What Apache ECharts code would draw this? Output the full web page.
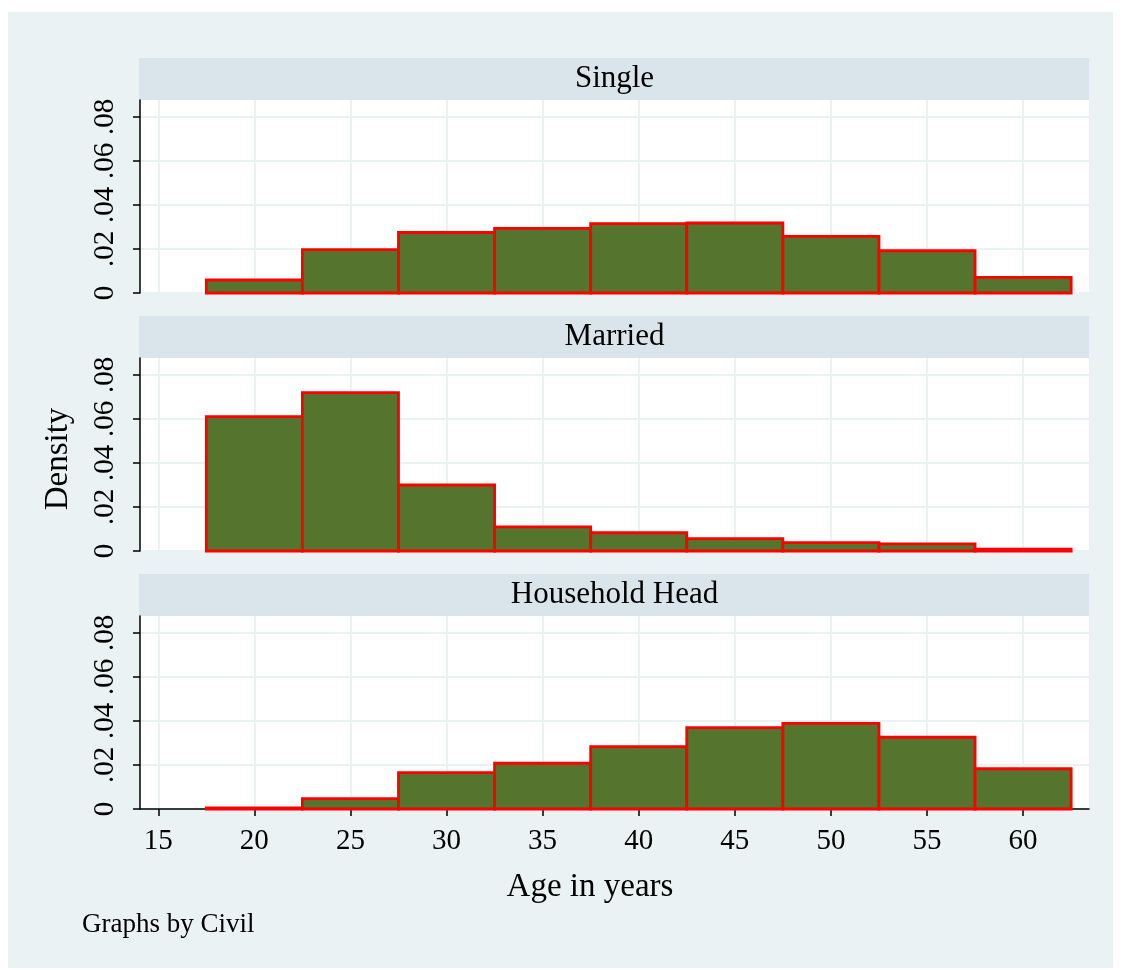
<!DOCTYPE html>
<html>
<head>
<meta charset="utf-8">
<title>Age histograms by civil status</title>
<script src="https://cdn.jsdelivr.net/npm/echarts@6/dist/echarts.min.js"></script>
<style>
  html, body { margin: 0; padding: 0; background: #ffffff; }
  #chart { width: 1122px; height: 970px; }
</style>
</head>
<body>
<div id="chart"></div>
<script>
// Histogram bins (age in years), width 5
const binEdges = [17.5, 22.5, 27.5, 32.5, 37.5, 42.5, 47.5, 52.5, 57.5, 62.5];

// Density per bin for each civil status group
const singleDensity  = [0.0059, 0.0197, 0.0275, 0.0294, 0.0315, 0.0318, 0.0257, 0.0192, 0.0071];
const marriedDensity = [0.0611, 0.0720, 0.0300, 0.0110, 0.0083, 0.0056, 0.0038, 0.0032, 0.0008];
const headDensity    = [0.0005, 0.0047, 0.0165, 0.0208, 0.0283, 0.0370, 0.0389, 0.0326, 0.0183];

const panelTitles = ['Single', 'Married', 'Household Head'];
const xTicks = [15, 20, 25, 30, 35, 40, 45, 50, 55, 60];
const yTicks = [0, 0.02, 0.04, 0.06, 0.08];

const FONT = '"Liberation Serif", "Times New Roman", serif';
const BG = '#EAF2F3';
const STRIP = '#D9E5EB';
const FILL = '#55742E';
const EDGE = '#FF0000';

const groups = [singleDensity, marriedDensity, headDensity];

const plotLeft = 140, plotRight = 1089, plotH = 193, stripH = 42;
const plotTops = [100, 358, 616];

function binData(values) {
  return values.map((v, i) => [binEdges[i], binEdges[i + 1], v]);
}

function yLabel(v) {
  if (v === 0) return '0';
  return String(+v.toFixed(2)).replace(/^0\./, '.');
}

const grids = [], xAxes = [], yAxes = [], series = [];
const graphics = [
  { type: 'rect', z: -100, shape: { x: 8, y: 12, width: 1105, height: 956 }, style: { fill: BG } }
];

groups.forEach((vals, i) => {
  const last = i === groups.length - 1;
  grids.push({
    left: plotLeft, right: 1122 - plotRight, top: plotTops[i], height: plotH,
    show: true, backgroundColor: '#ffffff', borderWidth: 0
  });
  xAxes.push({
    type: 'value', gridIndex: i, min: 14.05, max: 63.43,
    axisLine: { show: last, onZero: false, lineStyle: { color: '#000', width: 1.5 } },
    axisTick: { show: last, customValues: xTicks, length: 7, lineStyle: { color: '#000', width: 1.5 } },
    axisLabel: { show: last, customValues: xTicks, margin: 18, color: '#000', fontFamily: FONT, fontSize: 29 },
    splitLine: { show: true, lineStyle: { color: BG, width: 2 } }
  });
  yAxes.push({
    type: 'value', gridIndex: i, min: 0, max: 0.0877,
    axisLine: { show: true, lineStyle: { color: '#000', width: 1.5 } },
    axisTick: { show: true, customValues: yTicks, length: 7, lineStyle: { color: '#000', width: 1.5 } },
    axisLabel: {
      show: true, customValues: yTicks, rotate: 90, margin: 20,
      color: '#000', fontFamily: FONT, fontSize: 29, formatter: yLabel
    },
    splitLine: { show: true, lineStyle: { color: BG, width: 2 } }
  });
  series.push({
    type: 'custom', xAxisIndex: i, yAxisIndex: i, clip: false,
    data: binData(vals),
    encode: { x: [0, 1], y: 2 },
    renderItem: function (params, api) {
      const p0 = api.coord([api.value(0), 0]);
      const p1 = api.coord([api.value(1), api.value(2)]);
      return {
        type: 'rect',
        shape: { x: p0[0], y: p1[1], width: p1[0] - p0[0], height: p0[1] - p1[1] },
        style: { fill: FILL, stroke: EDGE, lineWidth: 2.8 }
      };
    }
  });
  // Panel strip with group title
  graphics.push({
    type: 'rect', z: -50,
    shape: { x: plotLeft - 1, y: plotTops[i] - stripH, width: plotRight - plotLeft + 1, height: stripH },
    style: { fill: STRIP }
  });
  graphics.push({
    type: 'text', z: 10,
    x: (plotLeft + plotRight) / 2, y: plotTops[i] - stripH / 2,
    style: { text: panelTitles[i], fill: '#000', font: '31px ' + FONT, align: 'center', verticalAlign: 'middle' }
  });
});

// Shared axis titles and note
graphics.push({
  type: 'text', z: 10, x: 590, y: 887,
  style: { text: 'Age in years', fill: '#000', font: '33px ' + FONT, align: 'center', verticalAlign: 'middle' }
});
graphics.push({
  type: 'text', z: 10, x: 58, y: 459, rotation: Math.PI / 2,
  style: { text: 'Density', fill: '#000', font: '33px ' + FONT, align: 'center', verticalAlign: 'middle' }
});
graphics.push({
  type: 'text', z: 10, x: 82, y: 925,
  style: { text: 'Graphs by Civil', fill: '#000', font: '27px ' + FONT, align: 'left', verticalAlign: 'middle' }
});

const chart = echarts.init(document.getElementById('chart'), null, { renderer: 'canvas' });
chart.setOption({
  animation: false,
  backgroundColor: '#ffffff',
  grid: grids,
  xAxis: xAxes,
  yAxis: yAxes,
  series: series,
  graphic: { elements: graphics }
});
</script>
</body>
</html>
